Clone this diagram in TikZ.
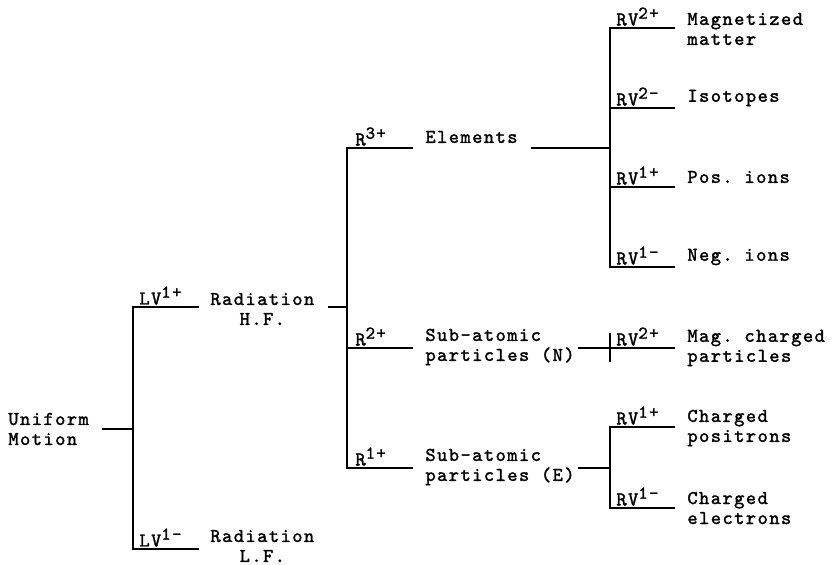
\documentclass[tikz,border=0pt]{standalone}
\usepackage{fontspec}
\setmonofont{lmmono10-regular}[Extension=.otf, LetterSpace=7.5, FakeBold=1.6]
\usetikzlibrary{positioning}
\tikzstyle{term} = [inner sep=0pt, anchor=west, align=left, font=\ttfamily]
\tikzstyle{tag} = [inner sep=0pt, anchor=south west, font=\ttfamily]
\tikzstyle{bar} = [line width=1.1pt]
\newcommand{\chg}[1]{\raisebox{0.8ex}{\fontsize{9pt}{9pt}\selectfont #1}}

\begin{document}
\begin{tikzpicture}[x=0.5pt, y=-0.5pt]
    \fontsize{9.75pt}{10pt}\selectfont
    \useasboundingbox (0,0) rectangle (834,565);

    % Place the terms
    \node [term] (motion) at (8,429) {Uniform\\Motion};
    \node [term, align=center] (hf) at (210,309) {Radiation\\H.F.};
    \node [term, align=center] (lf) at (210,546) {Radiation\\L.F.};
    \node [term] (elements) at (425,137) {Elements};
    \node [term] (subn) at (425,347) {Sub-atomic\\particles (N)};
    \node [term] (sube) at (425,467) {Sub-atomic\\particles (E)};
    \node [term] (magmat) at (687,29) {Magnetized\\matter};
    \node [term] (iso) at (687,98) {Isotopes};
    \node [term] (posion) at (687,177) {Pos. ions};
    \node [term] (negion) at (687,257) {Neg. ions};
    \node [term] (magch) at (687,348) {Mag. charged\\particles};
    \node [term] (pos) at (687,428) {Charged\\positrons};
    \node [term] (ele) at (687,508) {Charged\\electrons};

    % Place the junctions
    \coordinate (m0) at (102,429);
    \coordinate (m1) at (133,429);
    \coordinate (lvp) at (133,307);
    \coordinate (lvm) at (133,549);
    \coordinate (lvp-end) at (199,307);
    \coordinate (lvm-end) at (199,549);
    \coordinate (h0) at (328,307);
    \coordinate (h1) at (347,307);
    \coordinate (r3) at (347,148);
    \coordinate (r2) at (347,348);
    \coordinate (r1) at (347,468);
    \coordinate (r3-end) at (413,148);
    \coordinate (r2-end) at (413,348);
    \coordinate (r1-end) at (413,468);
    \coordinate (e0) at (531,148);
    \coordinate (e1) at (610,148);
    \coordinate (n0) at (578,348);
    \coordinate (n1) at (610,348);
    \coordinate (n-top) at (610,333);
    \coordinate (n-bot) at (610,362);
    \coordinate (c0) at (578,468);
    \coordinate (c1) at (610,468);
    \coordinate (rva) at (610,28);
    \coordinate (rvb) at (610,108);
    \coordinate (rvc) at (610,187);
    \coordinate (rvd) at (610,267);
    \coordinate (rve) at (610,427);
    \coordinate (rvf) at (610,508);
    \coordinate (rva-end) at (675,28);
    \coordinate (rvb-end) at (675,108);
    \coordinate (rvc-end) at (675,187);
    \coordinate (rvd-end) at (675,267);
    \coordinate (rvn-end) at (675,348);
    \coordinate (rve-end) at (675,427);
    \coordinate (rvf-end) at (675,508);

    % Place the tags
    \node [tag] (lv1p) at (139,305) {LV\chg{1+}};
    \node [tag] (lv1m) at (139,547) {LV\chg{1-}};
    \node [tag] (r3p) at (355,146) {R\chg{3+}};
    \node [tag] (r2p) at (355,346) {R\chg{2+}};
    \node [tag] (r1p) at (355,466) {R\chg{1+}};
    \node [tag] (rv2p) at (616,26) {RV\chg{2+}};
    \node [tag] (rv2m) at (616,106) {RV\chg{2-}};
    \node [tag] (rv1p) at (616,185) {RV\chg{1+}};
    \node [tag] (rv1m) at (616,265) {RV\chg{1-}};
    \node [tag] (rvn2p) at (616,346) {RV\chg{2+}};
    \node [tag] (rve1p) at (616,425) {RV\chg{1+}};
    \node [tag] (rve1m) at (616,506) {RV\chg{1-}};

    % Connect the junctions
    \draw [bar] (m0) -- (m1);
    \draw [bar] (lvp-end) -- (lvp) -- (lvm) -- (lvm-end);
    \draw [bar] (h0) -- (h1);
    \draw [bar] (r3-end) -- (r3) -- (r1) -- (r1-end);
    \draw [bar] (r2) -- (r2-end);
    \draw [bar] (e0) -- (e1);
    \draw [bar] (rva-end) -- (rva) -- (rvd) -- (rvd-end);
    \draw [bar] (rvb) -- (rvb-end);
    \draw [bar] (rvc) -- (rvc-end);
    \draw [bar] (n0) -- (n1) -- (rvn-end);
    \draw [bar] (n-top) -- (n-bot);
    \draw [bar] (c0) -- (c1);
    \draw [bar] (rve-end) -- (rve) -- (rvf) -- (rvf-end);
\end{tikzpicture}
\end{document}
